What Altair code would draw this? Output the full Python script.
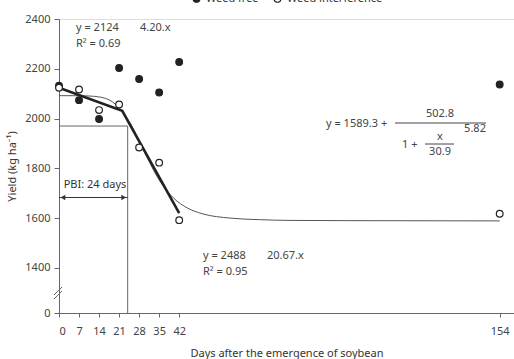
import altair as alt
import pandas as pd

FONT = "Noto Sans"

days = [0, 7, 14, 21, 28, 35, 42, 154]
weed_free = [2132, 2074, 1998, 2203, 2159, 2105, 2227, 2137]
weed_interference = [2124, 2117, 2034, 2057, 1884, 1823, 1592, 1618]

# thick linear-plateau fits
lin_x = [0, 22.1, 42]
lin_y = [2124, 2031, 1620]

# thin logistic curve
curve_x = [0, 5, 10, 15, 20, 25, 30, 35, 40, 45, 50, 60, 70, 80, 100, 154]
curve_y = [2092, 2092, 2091, 2085, 2055, 1979, 1862, 1753, 1681, 1640, 1618,
           1600, 1594, 1591, 1590, 1589]

pbi_day = 24
pbi_level = 1970
arrow_level = 1683
y_break = 1219

x_ticks = [0, 7, 14, 21, 28, 35, 42, 154]
y_ticks = [1219, 1400, 1600, 1800, 2000, 2200, 2400]

pts = pd.DataFrame({
    "day": days * 2,
    "yield": weed_free + weed_interference,
    "series": ["Weed free"] * len(days) + ["Weed interference"] * len(days),
})

xs = alt.Scale(domain=[0, 159], nice=False, zero=False)
ys = alt.Scale(domain=[y_break, 2400], nice=False, zero=False)

xaxis = alt.Axis(values=x_ticks, title="Days after the emergence of soybean",
                 grid=False, tickSize=4, labelPadding=8, titlePadding=11,
                 domainColor="#666", tickColor="#666", labelColor="#444",
                 titleColor="#333", labelFont=FONT, titleFont=FONT,
                 labelFontSize=11, titleFontSize=11, titleFontWeight="normal")
yaxis = alt.Axis(values=y_ticks, title="Yield (kg ha⁻¹)", grid=False,
                 tickSize=5, labelPadding=4, titlePadding=7,
                 labelExpr="datum.value < 1300 ? '0' : datum.value",
                 domainColor="#666", tickColor="#666", labelColor="#444",
                 titleColor="#333", labelFont=FONT, titleFont=FONT,
                 labelFontSize=11, titleFontSize=11, titleFontWeight="normal")

base_pts = alt.Chart(pts).mark_point(shape="circle", size=45, strokeWidth=1.2,
                                     stroke="#222", opacity=1, filled=False).encode(
    x=alt.X("day:Q", scale=xs, axis=xaxis),
    y=alt.Y("yield:Q", scale=ys, axis=yaxis),
    fill=alt.Fill("series:N",
                  scale=alt.Scale(domain=["Weed free", "Weed interference"],
                                  range=["#222222", "#ffffff"]),
                  legend=alt.Legend(title=None, orient="none", direction="horizontal",
                                    legendX=132, legendY=-26, symbolType="circle",
                                    symbolStrokeColor="#222", symbolStrokeWidth=1.2,
                                    symbolSize=45, labelFont=FONT, labelFontSize=11,
                                    labelColor="#333", columnPadding=12)),
)

lin_df = pd.DataFrame({"day": lin_x, "yield": lin_y})
lin = alt.Chart(lin_df).mark_line(color="#222", strokeWidth=2.6).encode(
    x=alt.X("day:Q", scale=xs), y=alt.Y("yield:Q", scale=ys))

cur_df = pd.DataFrame({"day": curve_x, "yield": curve_y})
cur = alt.Chart(cur_df).mark_line(color="#555", strokeWidth=1, interpolate="monotone").encode(
    x=alt.X("day:Q", scale=xs), y=alt.Y("yield:Q", scale=ys))

pbi_h = alt.Chart(pd.DataFrame({"a": [0], "b": [pbi_day], "y": [pbi_level]})).mark_rule(
    color="#666", strokeWidth=1).encode(
    x=alt.X("a:Q", scale=xs), x2="b:Q", y=alt.Y("y:Q", scale=ys))
pbi_v = alt.Chart(pd.DataFrame({"x": [pbi_day], "a": [y_break], "b": [pbi_level]})).mark_rule(
    color="#666", strokeWidth=1).encode(
    x=alt.X("x:Q", scale=xs), y=alt.Y("a:Q", scale=ys), y2="b:Q")
arrow = alt.Chart(pd.DataFrame({"a": [0], "b": [pbi_day], "y": [arrow_level]})).mark_rule(
    color="#333", strokeWidth=1).encode(
    x=alt.X("a:Q", scale=xs), x2="b:Q", y=alt.Y("y:Q", scale=ys))
heads = alt.Chart(pd.DataFrame({"x": [1.4, pbi_day - 1.4], "y": [arrow_level] * 2,
                                "s": ["triangle-left", "triangle-right"]})).mark_point(
    filled=True, color="#333", size=28, opacity=1).encode(
    x=alt.X("x:Q", scale=xs), y=alt.Y("y:Q", scale=ys),
    shape=alt.Shape("s:N", scale=None))

def txt(s, x, y, size=11, align="left", color="#444"):
    return alt.Chart(pd.DataFrame({"t": [s]})).mark_text(
        font=FONT, fontSize=size, align=align, baseline="middle", color=color).encode(
        text="t:N", x=alt.value(x), y=alt.value(y))

def seg(x1, x2, y1, y2, color="#444", w=1):
    return alt.Chart(pd.DataFrame({"t": [0]})).mark_rule(color=color, strokeWidth=w).encode(
        x=alt.value(x1), x2=alt.value(x2), y=alt.value(y1), y2=alt.value(y2))

# plot-area-relative pixel positions (origin at 59, 19)
ann = [
    txt("y = 2124", 17, 9), txt("4.20.x", 81, 9), txt("R² = 0.69", 17, 25),
    txt("PBI: 24 days", 36, 166, align="center", color="#333"),
    txt("y = 2488", 144, 237), txt("20.67.x", 208, 237), txt("R² = 0.95", 144, 253),
    txt("y = 1589.3 +", 267, 105),
    txt("502.8", 381, 95, align="center"),
    seg(336, 427, 104, 104),
    txt("5.82", 416, 110, align="center"),
    txt("1 +", 343, 126),
    txt("x", 381, 118, align="center"),
    seg(366, 395, 125, 125),
    txt("30.9", 381, 133, align="center"),
    seg(-5, 3, 276, 268, color="#666"),
    seg(-5, 3, 280, 272, color="#666"),
]

chart = alt.layer(cur, lin, pbi_h, pbi_v, arrow, heads, base_pts, *ann).properties(
    width=455, height=294,
    autosize=alt.AutoSizeParams(type="none"),
    padding={"left": 59, "top": 19, "right": 0, "bottom": 46},
).configure_view(stroke=None).configure(background="white")

chart.save("out.html", embed_options={"renderer": "svg", "actions": False})
